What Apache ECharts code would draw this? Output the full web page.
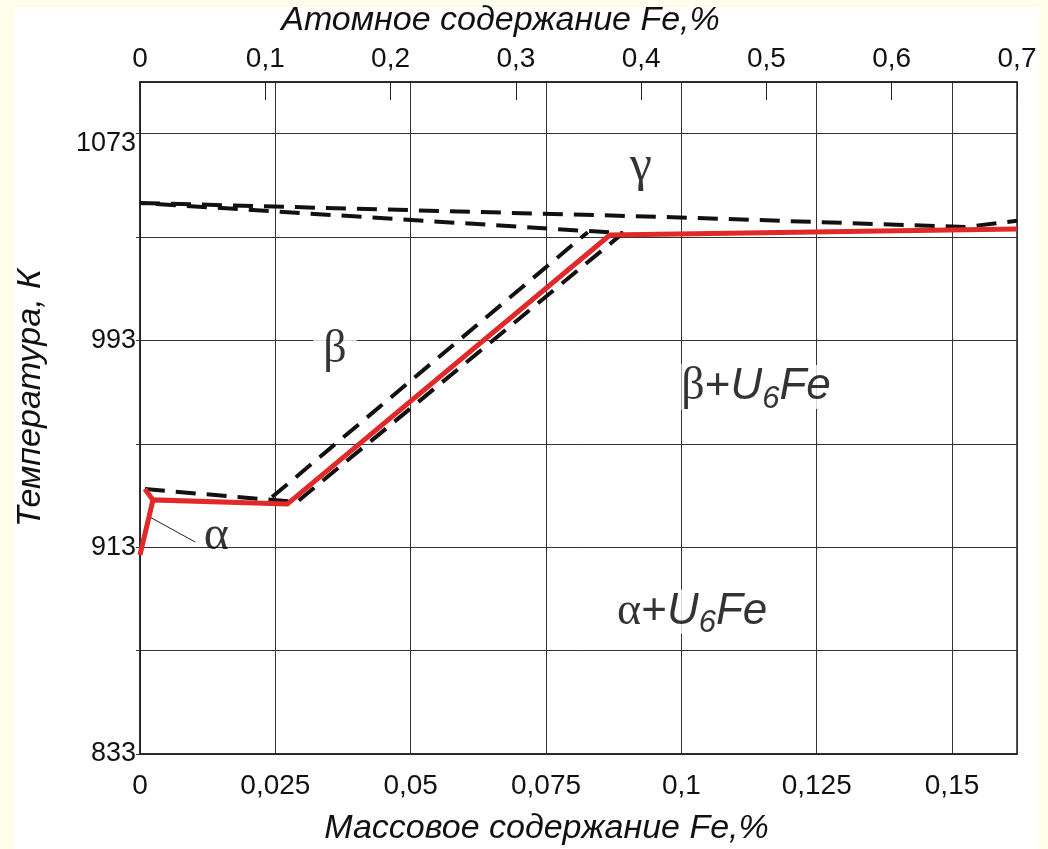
<!DOCTYPE html>
<html>
<head>
<meta charset="utf-8">
<script src="https://cdn.jsdelivr.net/npm/echarts@6/dist/echarts.min.js"></script>
<style>
  html, body { margin: 0; padding: 0; width: 1048px; height: 849px; background: #fdfde9; overflow: hidden; }
  #panel { position: absolute; left: 14px; top: 7px; width: 1025px; height: 842px; background: #fff; }
  #chart { position: absolute; left: 0; top: 0; width: 1048px; height: 849px; }
</style>
</head>
<body>
<div id="panel"></div>
<div id="chart"></div>
<script>
// tick labels
const massTickLabels = ['0', '0,025', '0,05', '0,075', '0,1', '0,125', '0,15']
const atomTickLabels = ['0', '0,1', '0,2', '0,3', '0,4', '0,5', '0,6', '0,7']
const tempTickLabels = ['833', '913', '993', '1073']

// [масс. % Fe, T, K]
const redLine = [[0, 910], [0.0024, 931.3], [0.0272, 929.7], [0.0868, 1033.8], [0.162, 1036.1]]
const redSpur = [[0.0024, 931.3], [0.0009, 935.5]]
const dashUpper = [[0, 1046.2], [0.0984, 1040.7], [0.1524, 1036.9], [0.162, 1039.3]]
const dashLoop = [[0.0009, 935.5], [0.029, 930.5], [0.0892, 1034.5], [0, 1046.2]]
const dashInner = [[0.0244, 932.4], [0.0827, 1034.9]]
const alphaLeader = [[0.0018, 924.7], [0.0102, 915.0]]

// подписи областей
const phasePoints = [[0.0925, 1060], [0.036, 989.5], [0.0141, 917.3], [0.1138, 975], [0.102, 888]]
const phaseTexts = ['{gr|γ}', '{gb|β}', '{ga|α}', '{gs|β}{p|+}{i|U}{sub|6}{i|Fe}', '{gs|α}{p|+}{i|U}{sub|6}{i|Fe}']

const sans = '"Liberation Sans", Arial, sans-serif'
const serif = '"Liberation Serif", "Times New Roman", serif'

const myChart = echarts.init(document.getElementById('chart'))

function massLabel(v) {
  let i = Math.round(v / 0.025)
  return Math.abs(v - i * 0.025) < 1e-6 && i < massTickLabels.length ? massTickLabels[i] : ''
}
function atomLabel(v) {
  let i = Math.round(v / 0.1)
  return Math.abs(v - i * 0.1) < 1e-6 && i < atomTickLabels.length ? atomTickLabels[i] : ''
}
function tempLabel(v) {
  let i = (v - 833) / 80
  if (!Number.isInteger(i) || i >= tempTickLabels.length) return ''
  // верхняя подпись стоит чуть ниже линии
  return i === tempTickLabels.length - 1 ? '{low|' + tempTickLabels[i] + '}' : tempTickLabels[i]
}

let option = {
  animation: false,
  grid: {
    left: 140, right: 31, top: 82, bottom: 95,
    show: true, borderColor: '#222', borderWidth: 1.5,
    outerBoundsMode: 'none'
  },
  xAxis: [{
    type: 'value', position: 'bottom', min: 0, max: 0.162, interval: 0.025,
    name: 'Массовое содержание Fe,%', nameLocation: 'middle', nameGap: 58, nameMoveOverlap: false,
    nameTextStyle: { fontFamily: sans, fontStyle: 'italic', fontSize: 34, color: '#111', padding: [0, 64, 0, 0] },
    axisLine: { show: true, lineStyle: { color: '#222', width: 1.5 } },
    axisTick: { show: false },
    axisLabel: { formatter: massLabel, margin: 18, fontFamily: sans, fontSize: 28, color: '#111', showMaxLabel: false },
    splitLine: { show: true, lineStyle: { color: '#333', width: 1 } }
  }, {
    type: 'value', position: 'top', min: 0, max: 0.7, interval: 0.1,
    name: 'Атомное содержание Fe,%', nameLocation: 'middle', nameGap: 44, nameMoveOverlap: false,
    nameTextStyle: { fontFamily: sans, fontStyle: 'italic', fontSize: 34, color: '#111', padding: [0, 156, 0, 0] },
    axisLine: { show: true, lineStyle: { color: '#222', width: 1.5 } },
    axisTick: { show: true, inside: true, length: 18, lineStyle: { color: '#222', width: 1 } },
    axisLabel: { formatter: atomLabel, margin: 9, fontFamily: sans, fontSize: 28, color: '#111' },
    splitLine: { show: false }
  }],
  yAxis: {
    type: 'value', min: 833, max: 1093, interval: 40,
    name: 'Температура, К', nameLocation: 'middle', nameGap: 92, nameMoveOverlap: false,
    nameTextStyle: { fontFamily: sans, fontStyle: 'italic', fontSize: 34, color: '#111', padding: [0, 0, 0, 40] },
    axisLine: { show: true, lineStyle: { color: '#222', width: 1.5 } },
    axisTick: { show: true, length: 4, lineStyle: { color: '#333' } },
    axisLabel: {
      formatter: tempLabel, margin: 4, fontFamily: sans, fontSize: 27, color: '#111', showMaxLabel: false,
      rich: { low: { fontFamily: sans, fontSize: 27, color: '#111', padding: [20, 0, 0, 0] } }
    },
    splitLine: { show: true, lineStyle: { color: '#333', width: 1 } }
  },
  series: [{
    type: 'line', data: alphaLeader, symbol: 'none', silent: true, z: 3,
    lineStyle: { color: '#222', width: 1 }
  }, {
    type: 'line', data: dashUpper, symbol: 'none', silent: true, z: 4,
    lineStyle: { color: '#111', width: 4, type: [20, 11] }
  }, {
    type: 'line', data: dashLoop, symbol: 'none', silent: true, z: 4,
    lineStyle: { color: '#111', width: 4, type: [20, 11] }
  }, {
    type: 'line', data: dashInner, symbol: 'none', silent: true, z: 4,
    lineStyle: { color: '#111', width: 4, type: [20, 11] }
  }, {
    type: 'line', data: redLine, symbol: 'none', silent: true, z: 5,
    lineStyle: { color: '#e2292a', width: 5, join: 'miter' }
  }, {
    type: 'line', data: redSpur, symbol: 'none', silent: true, z: 5,
    lineStyle: { color: '#e2292a', width: 5 }
  }, {
    type: 'scatter', symbolSize: 0, silent: true, z: 2,
    data: phasePoints.map((p, i) => ({ value: p, text: phaseTexts[i] })),
    label: {
      show: true, position: 'inside',
      formatter: p => p.data.text,
      rich: {
        gr: { fontFamily: serif, fontSize: 50, color: '#000' },
        ga: { fontFamily: serif, fontSize: 48, color: '#000' },
        gb: { fontFamily: serif, fontSize: 46, color: '#000', backgroundColor: '#fff', padding: [0, 10] },
        gs: { fontFamily: serif, fontSize: 46, color: '#000', backgroundColor: '#fff', lineHeight: 54 },
        p: { fontFamily: sans, fontSize: 44, color: '#000', backgroundColor: '#fff', lineHeight: 54 },
        i: { fontFamily: sans, fontStyle: 'italic', fontSize: 44, color: '#000', backgroundColor: '#fff', lineHeight: 54 },
        sub: { fontFamily: sans, fontStyle: 'italic', fontSize: 31, color: '#000', backgroundColor: '#fff', lineHeight: 54, padding: [24, 0, 0, 0] }
      }
    }
  }]
}

myChart.setOption(option)
</script>
</body>
</html>
